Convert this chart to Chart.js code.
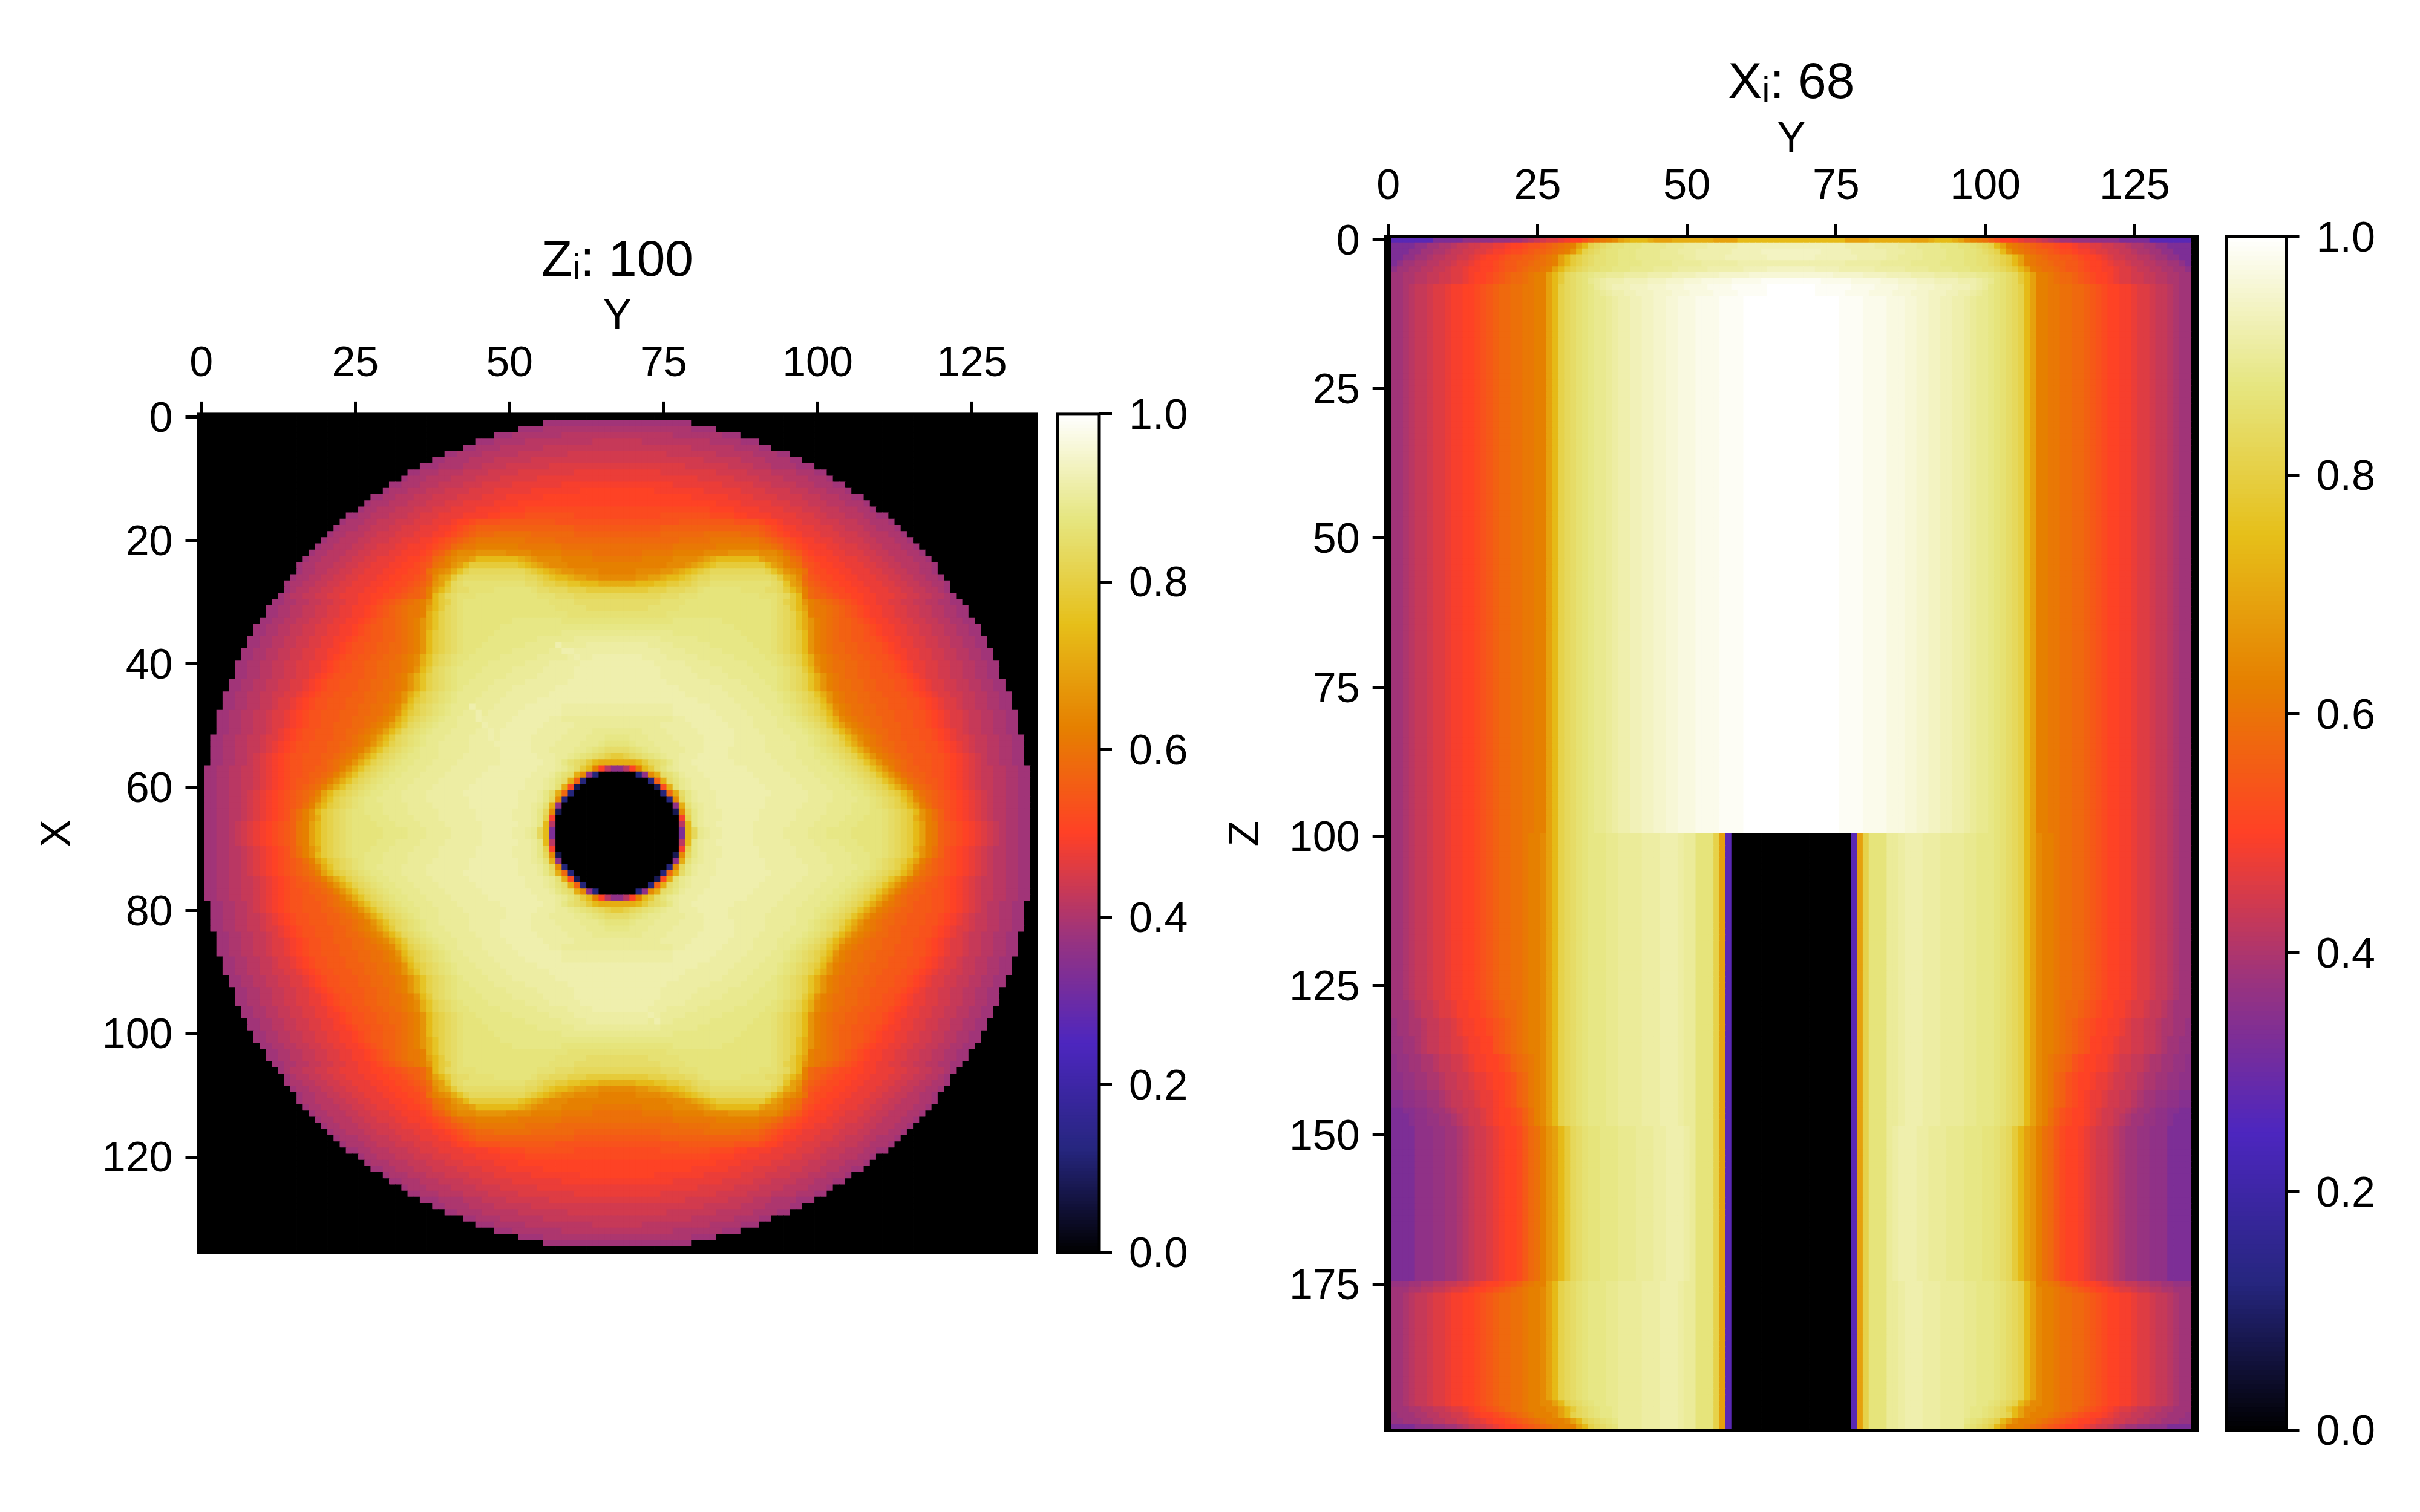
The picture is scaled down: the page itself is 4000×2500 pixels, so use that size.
<!DOCTYPE html>
<html>
<head>
<meta charset="utf-8">
<title>Normalised field slices</title>
<script src="https://cdn.jsdelivr.net/npm/chart.js@4"></script>
<style>
  html, body { margin: 0; padding: 0; background: #fff; }
  #page { position: relative; width: 4000px; height: 2500px; background: #fff; overflow: hidden; }
  canvas { position: absolute; top: 0; }
</style>
</head>
<body>
<div id="page">
  <canvas id="planeZ" width="1735" height="2500" style="left:0"></canvas>
  <canvas id="barZ" width="300" height="2500" style="left:1730px"></canvas>
  <canvas id="planeX" width="1660" height="2500" style="left:2000px"></canvas>
  <canvas id="barX" width="340" height="2500" style="left:3660px"></canvas>
</div>
<script>
// Titles, axis names and tick values
const TITLE_Z = "Zᵢ: 100";
const TITLE_X = "Xᵢ: 68";
const HORIZONTAL_NAME = "Y";
const VERTICAL_NAME_Z = "X";
const VERTICAL_NAME_X = "Z";
const TICKS_Y = [0, 25, 50, 75, 100, 125];
const TICKS_X = [0, 20, 40, 60, 80, 100, 120];
const TICKS_Z = [0, 25, 50, 75, 100, 125, 150, 175];
const TICKS_BAR = [0, 0.2, 0.4, 0.6, 0.8, 1.0];

// Colour map stops, evenly spaced between 0 and 1
const CMAP_STOPS = [
  [0, 0, 0], [0.15, 0.15, 0.5], [0.3, 0.15, 0.75], [0.6, 0.2, 0.5], [1, 0.25, 0.15],
  [0.9, 0.5, 0], [0.9, 0.75, 0.1], [0.9, 0.9, 0.5], [1, 1, 1]
];

// One letter stands for one field level; cell rows below are run-length coded with these letters
const LEVEL_KEYS = "abcdefghijklmnopqrstuvwxyzABCDEFGHIJKLMNOPQRSTUVWYX";
const LEVEL_VALUES = [
  .385, .40, .415, .43, .445, .46, .475, .49, .505, .52, .535, .55, .565, .58, .595, .61, .625,
  .645, .665, .69, .715, .74, .765, .79, .81, .83,
  .845, .86, .87, .88, .89, .90, .91, .92, .93, .94, .95, .96, .97, .98, .99, 1,
  0, .08, .12, .20, .27, .33, .36, .372, .345
];

// Z slice, one quarter of the disc: first lit column for rows 0..67
const DISC_RIM = [
  68, 56, 52, 48, 45, 43, 40, 38, 36, 34, 33, 31, 30, 28, 27, 26, 24, 23, 22, 21,
  20, 19, 18, 17, 16, 16, 15, 14, 14, 13, 12, 11, 11, 10, 9, 9, 8, 8, 7, 7,
  6, 6, 6, 5, 5, 4, 4, 4, 3, 3, 3, 3, 2, 2, 2, 2, 2, 1, 1, 1,
  1, 1, 1, 1, 1, 1, 1, 1
];

// Z slice, levels from the first lit column towards column 67, rows 0..67
const DISC_ROWS = [
  "Q",
  "a12",
  "a4 b12",
  "a3 b8 c9",
  "a3 b5 c11 d4",
  "a2 b4 c7 d12",
  "a2 b4 c6 d8 e8",
  "a2 b4 c4 d6 e14",
  "a3 b4 c3 d4 e7 f11",
  "a2 b3 c4 d4 e5 f9 g7",
  "a b3 c4 d4 e4 f6 g13",
  "a2 b3 c3 d4 e3 f5 g8 h9",
  "a b3 c3 d3 e4 f4 g6 h8 i6",
  "a2 b2 c3 d3 e4 f4 g4 h6 i12",
  "a b3 c3 d3 e3 f3 g5 h4 i16",
  "a b2 c3 d3 e3 f3 g4 h4 i4 j15",
  "a2 b2 c3 d3 e2 f3 g4 h4 i2 j4 k8 j7",
  "a b3 c2 d3 e3 f3 g3 h i2 j k4 l9 k10",
  "a b3 c2 d3 e2 f3 g3 h2 i j k l m16 l7",
  "a b2 c3 d2 e3 f3 g3 h2 i j k l m n3 o6 n7 m7",
  "a b2 c3 d2 e3 f2 g3 h2 i j k l m n o p8 o5 n10",
  "a b2 c3 d2 e2 f3 g2 h3 i j k l n o p2 q7 p7 o9",
  "a b2 c3 d2 e2 f3 g2 h3 i j l m o q r3 s5 r4 q5 p5 o4",
  "a b2 c3 d2 e2 f2 g3 h2 i2 j k n o q r s2 t v7 u t s r4 q5 p4",
  "a b2 c3 d2 e2 f2 g3 h2 i2 j k l o p q s t v x8 w v u t s r3 q8",
  "a b2 c2 d2 e2 f2 g3 h2 i2 j2 k o q r s u w y z9 y x w v u t s2 r4 q3",
  "a b2 c2 d2 e2 f2 g3 h2 i2 j2 k l n r t u x z A10 z2 y x w v2 u t2 s2 r3",
  "a b2 c2 d2 e2 f2 g3 h2 i2 j2 k l m o s t w z A B10 A2 z y2 x2 w2 v3 u3",
  "a b c2 d2 e2 f2 g3 h2 i2 j2 k l m n q t v x z A2 B4 C6 B A2 z3 y3 x5",
  "a b c2 d2 e2 f2 g3 h2 i2 j2 k l m2 n q v x z A B3 C10 B3 A3 z7",
  "a2 b2 c2 d2 e2 f2 g2 h2 i j k l m n o p q s v x y A B C14 B4 A7",
  "a2 b2 c2 d2 e2 f2 g2 h2 i j k l m n o p2 q t v x z A B C15 B5 A5",
  "a2 b2 c2 d2 e2 f2 g2 h2 i j k l m n o p2 q u w y z A B C17 B8",
  "a2 b2 c2 d2 e2 f2 g2 h2 i j k l m2 n o p q s u w y z A B C8 D8 C9",
  "a2 b2 c2 d2 e2 f2 g2 h2 i j k l2 m2 n o p q s u w y z A B C6 D19",
  "a2 b2 c2 d2 e2 f2 g2 h2 i j k l2 m2 n o p q s v x y z A B C5 D11 E9",
  "a2 b2 c2 d2 e2 f2 g2 h2 i j k2 l2 m2 n o p q s v x y z A B C4 D8 E6 F7",
  "a2 b2 c2 d2 e2 f2 g2 h i j k2 l2 m2 n2 o p q s v x y z A B C3 D7 E6 F4 G5",
  "a2 b2 c2 d2 e2 f2 g2 h2 i j k2 l2 m2 n2 o p q s v x y z A B C2 D6 E6 F4 G7",
  "a2 b2 c2 d2 e2 f2 g2 h i j k2 l2 m2 n2 o p q r u w y z A B C2 D5 E6 F5 G4 H4",
  "a2 b2 c2 d2 e2 f2 g2 h i j k2 l2 m2 n2 o2 p q r u w y z A B C D4 E6 F4 G5 H6",
  "a2 b2 c2 d2 e2 f2 g2 h i j k2 l2 m2 n2 o2 p q s v x z A B C D4 E5 F5 G5 H7",
  "a2 b2 c2 d2 e2 f2 g h i j k2 l3 m2 n2 o p q s u w y z A B C D3 E5 F5 G6 H7",
  "a2 b2 c2 d2 e2 f2 g h i j k2 l3 m2 n2 o2 p q s u w y z A B C D2 E4 F5 G7 H8",
  "a2 b2 c2 d2 e2 f2 g h i j k2 l3 m2 n2 o2 p q s u w y z A B C D E4 F4 G7 H10",
  "a2 b2 c2 d2 e2 f2 g h i j k2 l3 m2 n2 o2 p q s u w y z A B C D E4 F4 G7 H11",
  "a2 b2 c2 d2 e f2 g h i j k2 l3 m3 n2 o2 p q s v x y z A B C D E3 F4 G6 H13",
  "a2 b2 c2 d2 e f2 g h i j k2 l3 m2 n2 o2 p q r u w y z A B C D E3 F4 G5 H6 G9",
  "a2 b2 c2 d2 e f2 g h i j k2 l3 m3 n2 o2 p q s v x y z A B C D E2 F4 G5 H7 G8",
  "a2 b2 c2 d2 e f2 g h i j k2 l3 m2 n2 o2 p q r u w y z A B C D E2 F4 G5 H6 G2 F9",
  "a2 b2 c2 d2 e f2 g h i j k2 l2 m3 n2 o p q r t v x z A B C D E3 F4 G4 H6 G5 F7",
  "a2 b2 c2 d2 e f g h i j k2 l3 m2 n2 o p q r t v x z A B C D E3 F4 G4 H6 G5 F4 E4",
  "a2 b2 c2 d2 e f2 g h i j k2 l3 m2 n o p q r t v x z A B C D E3 F4 G5 H5 G5 F4 E3 D2",
  "a2 b2 c2 d2 e f g h i j k2 l3 m2 n2 o p q s u w y z A B C D E2 F5 G5 H5 G4 F4 E3 D C2",
  "a2 b2 c2 d2 e f g h i j k2 l3 m2 n o p q s u w y z A B C D E3 F5 G6 H4 G3 F4 E2 D C B A2",
  "a2 b2 c2 d e f g h i j k2 l3 m2 n o p q s u w y z A B C D2 E3 F4 G7 H5 G3 F2 E D C B A z y x",
  "a2 b2 c2 d e f g h i j k2 l3 m n o p q s u w y z A B C D2 E3 F4 G7 H7 G2 F D B A z x v u3",
  "a2 b2 c2 d2 e f g h i j k2 l2 m2 n o q s u w y z A B C D2 E3 F4 G6 H8 G3 F E C A x",
  "a2 b2 c2 d2 e f g h i j k2 l m2 n o q s u w y z A B C D2 E3 F4 G6 H8 G3 F D B A",
  "a2 b2 c2 d2 e f g h i j k l2 m n o q s u w y z A B C D2 E3 F4 G6 H8 G3 F E C A",
  "a2 b2 c2 d2 e f g h i j k l m n o q s u w y z A B C D2 E3 F4 G6 H9 G3 F E B",
  "a2 b2 c2 d e f g h i j k l m n o q t v x y z A B C D2 E3 F4 G6 H9 G3 F D A",
  "a2 b2 c2 d e f g h i j k l m n p r u w y z A B C D2 E4 F4 G7 H8 G3 F D z",
  "a2 b2 c2 d e f g h i j k l m o q t v x y z A B C D3 E4 F4 G6 H8 G2 F E B",
  "a2 b2 c2 d e f g h i j k m o q s v x y z A B C2 D3 E4 F5 G6 H6 G3 F D z",
  "a2 b2 c2 d e f g h i j k m o q s u x y z A B C3 D3 E4 F4 G6 H6 G3 F D y",
  "a2 b2 c d e f g h i j k l m p q t v x y z A B C4 D3 E4 F4 G6 H6 G2 F D v",
  "a2 b2 c d e f g h i j k l m p q t v x y z A B C5 D4 E3 F4 G5 H5 G2 F E z v"
];

// Z slice, cells around the central bore for rows 57..67: first column, then levels; black after them
const BORE_FIRST_ROW = 57;
const BORE_START = [63, 61, 60, 59, 58, 58, 57, 57, 57, 57, 57];
const BORE_CELLS = ["vqicW", "urWS", "umS", "ujR", "unS", "rS", "uW", "rR", "h", "c", "V"];

// Z slice, faint brighter traces across the core: row, first column, column count
const TRACE_LEVEL = "H";
const TRACES = [
  [47, 44, 1], [48, 45, 1], [49, 45, 1], [50, 46, 1], [51, 47, 1], [52, 47, 1], [53, 48, 1], [54, 49, 1], [55, 49, 1], [56, 50, 1],
  [37, 58, 1], [38, 59, 2], [39, 61, 1], [40, 62, 2], [41, 64, 1], [42, 65, 2], [43, 67, 1], [44, 68, 1],
  [90, 68, 1], [91, 69, 1], [92, 70, 1], [93, 70, 1], [94, 71, 1], [95, 72, 1], [96, 72, 1], [97, 73, 1], [98, 74, 1]
];

// X slice: first row of each band and its levels for columns 0..67
const BAND_FIRST_ROW = [0, 1, 2, 3, 4, 5, 6, 7, 8, 9, 10, 100, 128, 131, 134, 137, 140, 143, 146, 147, 149, 175, 176, 177, 195, 196, 197, 198, 199];
const BAND_ROWS = [
  "Q U7 V5 W5 Y3 a2 b c d e f2 g h i2 k m o p q r t u v3 u t3 u7 t4 v9",
  "Q V4 W2 a2 b2 c d2 e2 f2 g2 h i2 j k2 l m n o p q t v y z A B C2 D3 E4 F3 G4 H5 I9",
  "Q V3 W2 a2 b2 c d2 e2 f2 g h2 i j2 k l m2 n o p q s v y z A B C2 D3 E4 F3 G3 H6 I5 J5",
  "Q V2 W2 a2 b c2 d2 e2 f g h i2 j k l2 m2 n o p q t v x y z A B2 C2 D3 E4 F4 G2 H5 I7 J4",
  "Q V W a2 b2 c2 d2 e f2 g h i2 j k l2 m2 n o2 p q t v x y z A B2 C2 D4 E5 F5 G6 H9",
  "Q W a2 b2 c2 d2 e f2 g h2 i2 j k l2 m n o2 p q t v x y z A B2 C2 D3 E4 F4 G5 H6 I4 J4",
  "Q a2 b2 c2 d2 e2 f2 g h i2 j k l m n2 o p q2 t v x z A B C D E2 F3 G4 H4 I4 J4 K5 L7",
  "Q a2 b2 c2 d2 e2 f2 g h i2 j k l m n2 o p q2 t v x z A B C E F G H3 I4 J3 K3 L3 M5 N5 O5",
  "Q a2 b c d2 e f2 g h2 i2 j k l m n2 o2 p2 q2 t v y z A B C D F G H I3 J3 K3 L3 M4 N4 O6 P4",
  "Q a2 b c d2 e f2 g h2 i2 j k l m n2 o2 p2 q2 t v y z A B C D E F G H2 I2 J3 K3 L3 M4 N4 O5 P4",
  "Q a2 b c d2 e f2 g h2 i2 j k l m n2 o2 p2 q2 t v y z A B C D E2 F G H2 I2 J2 K2 L2 M3 N4 O4 P8",
  "Q a2 b c d2 e f2 g h2 i2 j k l m n2 o2 p q2 r t v y z A B C D3 E2 F4 G3 H3 G F2 C3 y t U Q10",
  "Q a3 b c d2 e f2 g h2 i2 j k l m n2 o p q2 r t v y z A B C D3 E2 F4 G3 H3 G F2 C3 y t U Q10",
  "Q Y a2 b2 c d2 e2 f g h2 i2 j k l m n o p q2 r t v y z A B C D3 E2 F4 G3 H3 G F2 C3 y t U Q10",
  "Q Y2 a2 b c d2 e2 f2 g h2 i2 k l m n o p q2 r t v y z A B C D3 E2 F4 G3 H3 G F2 C3 y t U Q10",
  "Q W Y2 a2 b2 c d2 e2 f g h2 i2 j k m n o p q r t v y z A B C D3 E2 F4 G3 H3 G F2 C3 y t U Q10",
  "Q W2 Y2 a2 b2 c d2 e2 f g2 h i2 j k m n p q r t v y z A B C D3 E2 F4 G3 H3 G F2 C3 y t U Q10",
  "Q X2 W2 Y2 a2 b c d2 e2 f g2 h i j k m n p q r t v y z A B C D3 E2 F4 G3 H3 G F2 C3 y t U Q10",
  "Q V2 X2 W2 Y a2 b c d2 e2 f g h i2 j k m o q r t v y z A B C D3 E2 F4 G3 H3 G F2 C3 y t U Q10",
  "Q V3 X W2 Y2 a2 b c d e2 f g h i2 j k m o q r t v y z A B C D3 E2 F4 G3 H3 G F2 C3 y t U Q10",
  "Q V4 W3 Y2 a2 b c d e2 f g h i2 j l n o q s t v x z A B C2 D3 E3 F3 G2 H3 G F C3 y t U Q10",
  "Q Y3 a2 b2 c2 d2 e2 f g h i2 j k l m o p q2 t v y z A B C D3 E2 F4 G3 H3 G F2 C3 y t U Q10",
  "Q a3 b2 c2 d2 e f2 g h i2 j k l m n o p q2 r t v y z A B C D3 E2 F4 G3 H3 G F2 C3 y t U Q10",
  "Q a2 b c d2 e f2 g h2 i2 j k l m n2 o2 p q2 r t v y z A B C D3 E2 F4 G3 H3 G F2 C3 y t U Q10",
  "Q a2 b c d2 e f2 g h2 i2 j k l m n2 o2 p q2 r2 t v y z A B C D2 E2 F4 G3 H3 G F2 C3 y t U Q10",
  "Q a3 b2 c2 d2 e f2 g h i j k l m n o2 p q3 r2 t v x z A B C D2 E F4 G3 H3 G F2 C3 y t U Q10",
  "Q Y a3 b2 c2 d2 e2 f g h i2 j k l m n o p q3 r t v y z A B C D2 E F4 G3 H3 G F2 C3 y t U Q10",
  "Q Y2 a3 b2 c2 d2 e2 f2 g h i2 j k l m n o p q3 r t v y z A B C D F4 G3 H3 G F2 C3 y t U Q10",
  "Q V4 W3 Y2 a2 b c d e2 f g h i2 j k l m n o p q3 t v y z A B C F4 G3 H3 G F2 C3 y t U Q10"
];

const FONT_FAMILY = "'Liberation Sans', Arial, 'DejaVu Sans', sans-serif";
const FULL = 136;
const HALF = 68;
const INK = "#000";

function colourFor(value) {
  const t = Math.min(Math.max(value, 0), 1) * (CMAP_STOPS.length - 1);
  const i = Math.min(Math.floor(t), CMAP_STOPS.length - 2);
  const f = t - i;
  const rgb = [0, 1, 2].map(k => Math.round(255 * (CMAP_STOPS[i][k] + f * (CMAP_STOPS[i + 1][k] - CMAP_STOPS[i][k]))));
  return "rgb(" + rgb.join(",") + ")";
}

function expandRuns(text) {
  const out = [];
  for (const m of text.matchAll(/([A-Za-z])(\d*)/g)) {
    const value = LEVEL_VALUES[LEVEL_KEYS.indexOf(m[1])];
    const n = m[2] ? parseInt(m[2], 10) : 1;
    for (let i = 0; i < n; i++) out.push(value);
  }
  return out;
}

// Rebuild the 68 x 68 quarter of the Z slice, rim and bore included
function discQuarter() {
  return DISC_ROWS.map((text, r) => {
    const row = new Array(HALF).fill(0);
    const levels = expandRuns(text);
    let last = 0;
    for (let c = DISC_RIM[r], k = 0; c < HALF; c++, k++) {
      if (k < levels.length) last = levels[k];
      row[c] = last;
    }
    const b = r - BORE_FIRST_ROW;
    if (b >= 0) {
      const ring = expandRuns(BORE_CELLS[b]);
      for (let c = BORE_START[b], k = 0; c < HALF; c++, k++) row[c] = k < ring.length ? ring[k] : 0;
    }
    return row;
  });
}

function discCells() {
  const quarter = discQuarter();
  const grid = [];
  for (let r = 0; r < FULL; r++) {
    const qr = quarter[r < HALF ? r : FULL - 1 - r];
    const line = [];
    for (let c = 0; c < FULL; c++) line.push(qr[c < HALF ? c : FULL - 1 - c]);
    grid.push(line);
  }
  const trace = expandRuns(TRACE_LEVEL)[0];
  TRACES.forEach(([r, c, n]) => { for (let k = 0; k < n; k++) grid[r][c + k] = trace; });
  const cells = [];
  grid.forEach((line, r) => line.forEach((v, c) => cells.push({ x: c, y: r, v })));
  return cells;
}

function bandCells() {
  const profiles = BAND_ROWS.map(expandRuns);
  const cells = [];
  let band = 0;
  for (let r = 0; r < 200; r++) {
    while (band + 1 < BAND_FIRST_ROW.length && BAND_FIRST_ROW[band + 1] <= r) band++;
    const p = profiles[band];
    for (let c = 0; c < FULL; c++) {
      const i = c < HALF ? c : FULL - 1 - c;
      cells.push({ x: c, y: r, v: i < p.length ? p[i] : p[p.length - 1] });
    }
  }
  return cells;
}

// Frame round the plot area, as drawn by an image axes
const framePlugin = {
  id: "frame",
  afterDatasetsDraw(chart) {
    const a = chart.chartArea, ctx = chart.ctx;
    ctx.save();
    ctx.strokeStyle = INK;
    ctx.lineWidth = 5;
    ctx.strokeRect(a.left, a.top, a.right - a.left, a.bottom - a.top);
    ctx.restore();
  }
};

const TICK_LEN = 21, TICK_W = 5, TICK_FONT = 70, TITLE_FONT = 84;
const TOP_AXIS_H = 202, TITLE_H = TITLE_FONT * 1.2;

function axisBase(ticks, labelShift, labelGap) {
  return {
    afterBuildTicks(axis) { axis.ticks = ticks.map(v => ({ value: v })); },
    border: { display: false },
    grid: { drawOnChartArea: false, drawTicks: true, tickLength: TICK_LEN, tickWidth: TICK_W, tickColor: INK, offset: false },
    ticks: { color: INK, font: { size: TICK_FONT, family: FONT_FAMILY }, maxRotation: 0, minRotation: 0, autoSkip: false, padding: labelGap, labelOffset: labelShift }
  };
}

function heatChart(id, o) {
  const cells = o.cells;
  const cellPx = (o.right - o.left) / FULL;
  new Chart(document.getElementById(id), {
    type: "scatter",
    data: {
      datasets: [{
        data: cells,
        pointStyle: "rect",
        pointRadius: (cellPx + 0.8) / Math.SQRT2,
        pointHoverRadius: (cellPx + 0.8) / Math.SQRT2,
        pointBorderWidth: 0,
        pointBackgroundColor: cells.map(c => colourFor(c.v)),
        showLine: false,
        parsing: false,
        normalized: true
      }]
    },
    options: {
      responsive: false,
      animation: false,
      events: [],
      layout: { padding: { left: o.padLeft, right: o.canvasW - o.right, top: o.top - TOP_AXIS_H - TITLE_H, bottom: 2500 - o.bottom } },
      plugins: {
        legend: { display: false },
        tooltip: { enabled: false },
        title: {
          display: true, text: o.title, fullSize: false, color: INK, padding: 0,
          font: { size: TITLE_FONT, family: FONT_FAMILY, lineHeight: 1.2, weight: "normal" }
        }
      },
      scales: {
        x: Object.assign(axisBase(TICKS_Y, 0, 19), {
          type: "linear", position: "top", min: -0.5, max: 135.5,
          title: { display: true, text: HORIZONTAL_NAME, color: INK, padding: { top: 0, bottom: 0 }, font: { size: TICK_FONT, family: FONT_FAMILY, lineHeight: 1.2 } },
          afterFit(s) { s.height = TOP_AXIS_H; }
        }),
        y: Object.assign(axisBase(o.yTicks, 5, 21), {
          type: "linear", position: "left", reverse: true, min: -0.5, max: o.rows - 0.5,
          title: { display: true, text: o.yName, color: INK, padding: { top: o.yNamePad, bottom: 0 }, font: { size: TICK_FONT, family: FONT_FAMILY, lineHeight: 1.2 } },
          afterFit(s) { s.width = o.left - o.padLeft; }
        })
      }
    },
    plugins: [framePlugin]
  });
}

// Vertical colour key: a stack of thin bars on the value scale
function barChart(id, o) {
  const steps = 256, levels = [];
  for (let i = 0; i < steps; i++) levels.push((i + 0.5) / steps);
  const valueAxis = axisBase(TICKS_BAR, 5, 28);
  valueAxis.ticks.callback = v => v.toFixed(1);
  new Chart(document.getElementById(id), {
    type: "bar",
    data: {
      datasets: [{
        data: levels.map(v => ({ x: 1, y: v })),
        backgroundColor: levels.map(colourFor),
        borderWidth: 0,
        inflateAmount: 0.7,
        barPercentage: 1,
        categoryPercentage: 1
      }]
    },
    options: {
      indexAxis: "y",
      responsive: false,
      animation: false,
      events: [],
      layout: { padding: { left: o.left, right: o.canvasW - o.right - 200, top: o.top, bottom: 2500 - o.bottom } },
      plugins: { legend: { display: false }, tooltip: { enabled: false }, title: { display: false } },
      scales: {
        x: { type: "linear", display: false, min: 0, max: 1, offset: false },
        y: Object.assign(valueAxis, {
          type: "linear", position: "right", min: 0, max: 1, offset: false,
          afterFit(s) { s.width = 200; }
        })
      }
    },
    plugins: [framePlugin]
  });
}

heatChart("planeZ", {
  cells: discCells(), title: TITLE_Z, yName: VERTICAL_NAME_Z, yTicks: TICKS_X, rows: FULL,
  left: 327.5, right: 1713.3, top: 684.9, bottom: 2071, canvasW: 1735, padLeft: 40, yNamePad: 15
});
barChart("barZ", { left: 17.5, right: 87, top: 684.9, bottom: 2071, canvasW: 300 });
heatChart("planeX", {
  cells: bandCells(), title: TITLE_X, yName: VERTICAL_NAME_X, yTicks: TICKS_Z, rows: 200,
  left: 289.7, right: 1632, top: 391.3, bottom: 2365, canvasW: 1660, padLeft: 0, yNamePad: 19
});
barChart("barX", { left: 20.5, right: 119.5, top: 391.3, bottom: 2365, canvasW: 340 });
</script>
</body>
</html>
